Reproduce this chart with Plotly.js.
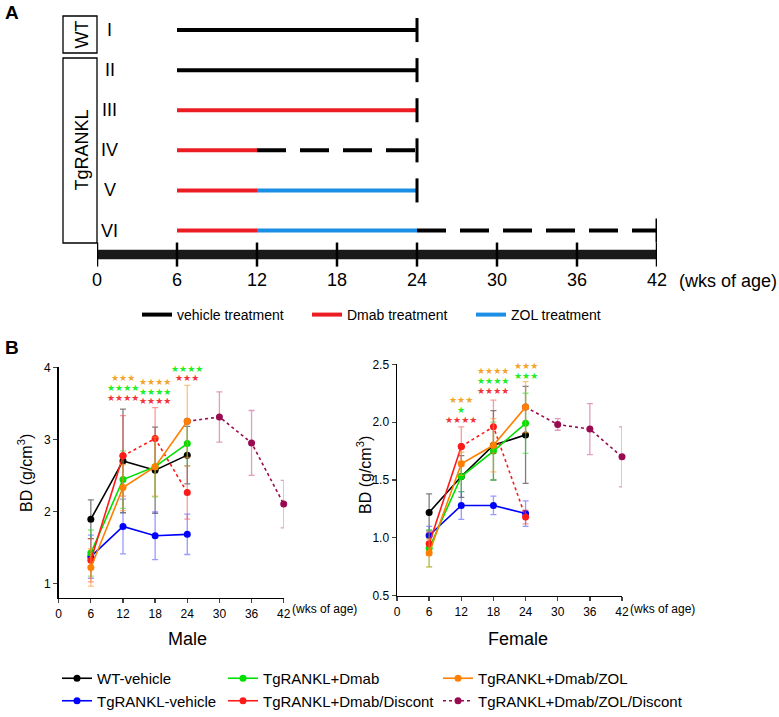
<!DOCTYPE html>
<html><head><meta charset="utf-8">
<script src="https://cdn.plot.ly/plotly-3.0.1.min.js"></script>
<style>html,body{margin:0;padding:0;background:#fff}#chart{width:779px;height:717px}</style>
</head><body><div id="chart"></div>
<script>
// ================= DATA =================
// Panel A: treatment schedule (weeks of age)
const rowLabels = ['I','II','III','IV','V','VI'];
const segRow   = ['I','II','III','IV','IV','V','V','VI','VI','VI'];
const segStart = [6, 6, 6, 6, 12, 6, 12, 6, 12, 24];
const segEnd   = [24, 24, 24, 12, 24, 12, 24, 12, 24, 42];
const segKind  = ['vehicle','vehicle','dmab','dmab','off','dmab','zol','dmab','zol','off'];
const treatmentKinds  = ['vehicle','dmab','zol'];
const treatmentLabels = ['vehicle treatment','Dmab treatment','ZOL treatment'];
const timelineTicks = [0, 6, 12, 18, 24, 30, 36, 42];
const groupBoxes = ['WT','TgRANKL'];

// Panel B: bone density (g/cm3)
const weeks = [6, 12, 18, 24];
const discWeeks = [30, 36, 42];
const seriesNames = ['WT-vehicle','TgRANKL-vehicle','TgRANKL+Dmab','TgRANKL+Dmab/Discont','TgRANKL+Dmab/ZOL','TgRANKL+Dmab/ZOL/Discont'];
const xTicksB = [0, 6, 12, 18, 24, 30, 36, 42];

// Male
const maleWT   = [1.89, 2.70, 2.57, 2.78];  const maleWTerr   = [0.27, 0.72, 0.60, 0.40];
const maleTg   = [1.37, 1.79, 1.66, 1.68];  const maleTgErr   = [0.30, 0.38, 0.33, 0.28];
const maleDmab = [1.42, 2.44, 2.62, 2.94];  const maleDmabErr = [0.32, 0.40, 0.42, 0.31];
const maleDisc = [1.32, 2.77, 3.01, 2.26];  const maleDiscErr = [0.30, 0.56, 0.43, 0.37];
const maleZOL  = [1.22, 2.33, 2.62, 3.25];  const maleZOLErr  = [0.26, 0.32, 0.41, 0.50];
const maleZD   = [3.31, 2.95, 2.10];        const maleZDErr   = [0.35, 0.45, 0.33];
// Female
const femWT   = [1.22, 1.53, 1.80, 1.89];  const femWTerr   = [0.16, 0.18, 0.30, 0.42];
const femTg   = [1.02, 1.28, 1.28, 1.21];  const femTgErr   = [0.08, 0.12, 0.08, 0.11];
const femDmab = [0.91, 1.53, 1.75, 1.99];  const femDmabErr = [0.16, 0.13, 0.25, 0.26];
const femDisc = [0.95, 1.79, 1.96, 1.18];  const femDiscErr = [0.10, 0.17, 0.23, 0.06];
const femZOL  = [0.87, 1.64, 1.80, 2.13];  const femZOLErr  = [0.12, 0.10, 0.23, 0.22];
const femZD   = [1.98, 1.94, 1.70];        const femZDErr   = [0.05, 0.22, 0.26];

// significance marks at weeks 12, 18, 24 (rows: vs ZOL, vs Dmab, vs Discont)
const sigWeeks = [12, 18, 24];
const maleSigZOL  = ['***','****','****'];
const maleSigDmab = ['****','****','****'];
const maleSigDisc = ['****','****','***'];
const femSigZOL   = ['***','****','***'];
const femSigDmab  = ['*','****','***'];
const femSigDisc  = ['****','****',''];

// ================= STYLE / LAYOUT =================
const W = 779, H = 717;
const px = x => x / W, py = y => 1 - y / H;
const FONT = 'Liberation Sans, Arial, sans-serif';

const colA = {vehicle:'#000000', dmab:'#ec1c24', zol:'#1b8fe6', off:'#000000'};
const C = {
  wt:   {c:'#000000', e:'rgba(40,40,40,0.6)'},
  tg:   {c:'#0000ff', e:'rgba(70,70,255,0.55)'},
  dmab: {c:'#00e000', e:'rgba(40,220,40,0.55)'},
  disc: {c:'#ff1a1a', e:'rgba(255,70,70,0.55)'},
  zol:  {c:'#ff7f00', e:'rgba(255,150,40,0.6)'},
  zd:   {c:'#9a0a50', e:'rgba(205,90,150,0.6)'}
};
const starCol = {zol:'#f2a52c', dmab:'#22ee22', disc:'#f23434'};

const traces = [];
const annotations = [];
const shapes = [];

// ---------- Panel A ----------
const rowIdx = r => rowLabels.indexOf(r) + 1;
const barY = 6.60;
['vehicle','dmab','zol','off'].forEach(kind => {
  const x = [], y = [];
  segKind.forEach((k, i) => {
    if (k !== kind) return;
    x.push(segStart[i], segEnd[i], null);
    y.push(rowIdx(segRow[i]), rowIdx(segRow[i]), null);
  });
  const ti = treatmentKinds.indexOf(kind);
  traces.push({
    type:'scatter', mode:'lines', x, y, xaxis:'x3', yaxis:'y3',
    line:{color:colA[kind], width:4, dash: kind === 'off' ? '29px,14px' : 'solid'},
    name: ti >= 0 ? treatmentLabels[ti] : 'off',
    showlegend: ti >= 0,
    legend: ti === 0 ? 'legend' : ti === 1 ? 'legend2' : 'legend3',
    hoverinfo:'skip'
  });
});
// end caps of each row
const capX = rowLabels.map(r => Math.max(...segEnd.filter((e, i) => segRow[i] === r)));
traces.push({
  type:'scatter', mode:'markers', x:capX, y:rowLabels.map(rowIdx), xaxis:'x3', yaxis:'y3',
  marker:{size:1, color:'rgba(0,0,0,0)'}, showlegend:false, hoverinfo:'skip',
  error_y:{type:'constant', value:0.3, color:'#000', thickness:3, width:0}
});
// timeline bar and its ticks
traces.push({
  type:'scatter', mode:'lines', x:[timelineTicks[0], timelineTicks[timelineTicks.length-1]], y:[barY, barY],
  xaxis:'x3', yaxis:'y3', line:{color:'#1a1a1a', width:9.5}, showlegend:false, hoverinfo:'skip'
});
traces.push({
  type:'scatter', mode:'markers', x:timelineTicks, y:timelineTicks.map(() => barY), xaxis:'x3', yaxis:'y3',
  marker:{size:1, color:'rgba(0,0,0,0)'}, showlegend:false, hoverinfo:'skip',
  error_y:{type:'constant', value:0.3, color:'#000', thickness:2.5, width:0}
});
rowLabels.forEach(r => annotations.push({
  xref:'x3', yref:'y3', x:0.95, y:rowIdx(r), text:r, showarrow:false,
  font:{size:18, color:'#000', family:FONT}, xanchor:'center', yanchor:'middle'
}));
annotations.push({xref:'x3', yref:'paper', x:42, xshift:20, y:py(281), text:'(wks of age)', showarrow:false,
  font:{size:18, color:'#000', family:FONT}, xanchor:'left', yanchor:'middle'});
// group boxes
const boxes = [[16, 53], [58, 243]];
groupBoxes.forEach((g, i) => {
  shapes.push({type:'rect', xref:'paper', yref:'paper', x0:px(63), x1:px(97), y0:py(boxes[i][1]), y1:py(boxes[i][0]),
    line:{color:'#000', width:1.3}});
  annotations.push({xref:'paper', yref:'paper', x:px(81), y:py((boxes[i][0] + boxes[i][1]) / 2), text:g, textangle:-90,
    showarrow:false, font:{size:18, color:'#000', family:FONT}, xanchor:'center', yanchor:'middle'});
});
annotations.push({xref:'paper', yref:'paper', x:px(3), y:py(12), text:'<b>A</b>', showarrow:false,
  font:{size:19, color:'#000', family:FONT}, xanchor:'left', yanchor:'middle'});
annotations.push({xref:'paper', yref:'paper', x:px(3), y:py(347), text:'<b>B</b>', showarrow:false,
  font:{size:19, color:'#000', family:FONT}, xanchor:'left', yanchor:'middle'});

// ---------- Panel B ----------
function addSeries(xa, ya, x, y, err, col, name, opts) {
  traces.push(Object.assign({
    type:'scatter', mode:'lines+markers', x, y, xaxis:xa, yaxis:ya, name,
    line:{color:col.c, width:1.6}, marker:{color:col.c, size:7},
    error_y:{type:'data', array:err, visible:true, color:col.e, thickness:1.3, width:3},
    hoverinfo:'skip', cliponaxis:false
  }, opts));
}
function panel(xa, ya, d, show) {
  const sl = show;
  addSeries(xa, ya, weeks, d.wt, d.wtE, C.wt, seriesNames[0], {showlegend:sl, legend:'legend4', legendrank:1});
  addSeries(xa, ya, weeks, d.tg, d.tgE, C.tg, seriesNames[1], {showlegend:sl, legend:'legend4', legendrank:2});
  addSeries(xa, ya, weeks, d.dm, d.dmE, C.dmab, seriesNames[2], {showlegend:sl, legend:'legend5', legendrank:1});
  // Discont: solid until 12 wks, dashed afterwards
  addSeries(xa, ya, weeks.slice(0, 2), d.dc.slice(0, 2), d.dcE.slice(0, 2), C.disc, seriesNames[3],
    {showlegend:sl, legend:'legend5', legendrank:2});
  addSeries(xa, ya, weeks.slice(1), d.dc.slice(1), [NaN].concat(d.dcE.slice(2)), C.disc, seriesNames[3],
    {showlegend:false, line:{color:C.disc.c, width:1.6, dash:'3px,3px'}});
  // ZOL/Discont continues from the ZOL 24-wk point
  addSeries(xa, ya, [weeks[3]].concat(discWeeks), [d.zo[3]].concat(d.zd), [NaN].concat(d.zdE), C.zd, seriesNames[5],
    {showlegend:sl, legend:'legend6', legendrank:2, line:{color:C.zd.c, width:1.6, dash:'3px,3px'}});
  addSeries(xa, ya, weeks, d.zo, d.zoE, C.zol, seriesNames[4], {showlegend:sl, legend:'legend6', legendrank:1});
}
panel('x', 'y', {wt:maleWT, wtE:maleWTerr, tg:maleTg, tgE:maleTgErr, dm:maleDmab, dmE:maleDmabErr,
  dc:maleDisc, dcE:maleDiscErr, zo:maleZOL, zoE:maleZOLErr, zd:maleZD, zdE:maleZDErr}, true);
panel('x2', 'y2', {wt:femWT, wtE:femWTerr, tg:femTg, tgE:femTgErr, dm:femDmab, dmE:femDmabErr,
  dc:femDisc, dcE:femDiscErr, zo:femZOL, zoE:femZOLErr, zd:femZD, zdE:femZDErr}, false);

// significance stars
function stars(xa, ya, top, step, rows) {
  rows.forEach((r, ri) => r.labels.forEach((s, i) => {
    if (!s) return;
    annotations.push({xref:xa, yref:ya, x:sigWeeks[i], y:top[i] - ri * step, text:s.replace(/\*/g, '\u2605'),
      showarrow:false, font:{size:9, color:r.color, family:'DejaVu Sans'}, xanchor:'center', yanchor:'middle'});
  }));
}
stars('x', 'y', [3.85, 3.80, 4.12], 0.137, [
  {labels:maleSigZOL, color:starCol.zol}, {labels:maleSigDmab, color:starCol.dmab}, {labels:maleSigDisc, color:starCol.disc}]);
stars('x2', 'y2', [2.19, 2.44, 2.485], 0.084, [
  {labels:femSigZOL, color:starCol.zol}, {labels:femSigDmab, color:starCol.dmab}, {labels:femSigDisc, color:starCol.disc}]);

// axis titles, panel titles
const txt = (x, y, text, size, extra) => annotations.push(Object.assign({xref:'paper', yref:'paper', x:px(x), y:py(y),
  text, showarrow:false, font:{size, color:'#000', family:FONT}, xanchor:'center', yanchor:'middle'}, extra || {}));
txt(25, 473, 'BD (g/cm<sup>3</sup>)', 16, {textangle:-90});
txt(364, 475, 'BD (g/cm<sup>3</sup>)', 16, {textangle:-90});
txt(187, 639, 'Male', 18);
txt(518, 639, 'Female', 18);
annotations.push({xref:'x', yref:'paper', x:42, xshift:6, y:py(609), text:'(wks of age)', showarrow:false,
  font:{size:12, color:'#000', family:FONT}, xanchor:'left', yanchor:'middle'});
annotations.push({xref:'x2', yref:'paper', x:42, xshift:6, y:py(609), text:'(wks of age)', showarrow:false,
  font:{size:12, color:'#000', family:FONT}, xanchor:'left', yanchor:'middle'});

const axB = (domain, anchor) => ({domain, anchor, range:[0, 42], tickvals:xTicksB, ticks:'outside', ticklen:4, tickwidth:1.3,
  showline:true, linecolor:'#000', linewidth:1.5, showgrid:false, zeroline:false, tickfont:{size:12, color:'#000', family:FONT}});
const ayB = (domain, anchor, range, tickvals, fmt) => ({domain, anchor, range, tickvals, tickformat:fmt, ticks:'outside', ticklen:4,
  tickwidth:1.3, showline:true, linecolor:'#000', linewidth:1.5, showgrid:false, zeroline:false, tickfont:{size:12, color:'#000', family:FONT}});
const legBase = {bgcolor:'rgba(0,0,0,0)', borderwidth:0, xanchor:'left', yanchor:'top', font:{size:15, color:'#000', family:FONT}, traceorder:'normal'};
const legB = x => Object.assign({}, legBase, {x:px(x), y:0, yanchor:'bottom', tracegroupgap:0});

const layout = {
  width:W, height:H, margin:{l:0, r:0, t:0, b:0}, paper_bgcolor:'#fff', plot_bgcolor:'rgba(0,0,0,0)',
  font:{family:FONT, color:'#000'}, showlegend:true,
  xaxis: axB([px(58.7), px(283.7)], 'y'),
  yaxis: ayB([py(597.7), py(367.3)], 'x', [0.8, 4], [1, 2, 3, 4], ''),
  xaxis2: axB([px(397), px(622)], 'y2'),
  yaxis2: ayB([py(595.7), py(364.3)], 'x2', [0.5, 2.5], [0.5, 1, 1.5, 2, 2.5], '.1f'),
  xaxis3: {domain:[px(97), px(657)], anchor:'y3', range:[0, 42], tickvals:timelineTicks, ticks:'', showline:false,
    showgrid:false, zeroline:false, tickfont:{size:18, color:'#000', family:FONT}},
  yaxis3: {domain:[py(267), py(10)], anchor:'x3', range:[6.91, 0.50], visible:false},
  legend:  Object.assign({}, legBase, {orientation:'h', x:px(137), y:py(299), font:{size:14, color:'#000', family:FONT}}),
  legend2: Object.assign({}, legBase, {orientation:'h', x:px(307), y:py(299), font:{size:14, color:'#000', family:FONT}}),
  legend3: Object.assign({}, legBase, {orientation:'h', x:px(471), y:py(299), font:{size:14, color:'#000', family:FONT}}),
  legend4: legB(57),
  legend5: legB(223),
  legend6: legB(438),
  annotations, shapes
};
Plotly.newPlot('chart', traces, layout, {displayModeBar:false, staticPlot:true});
</script></body></html>
